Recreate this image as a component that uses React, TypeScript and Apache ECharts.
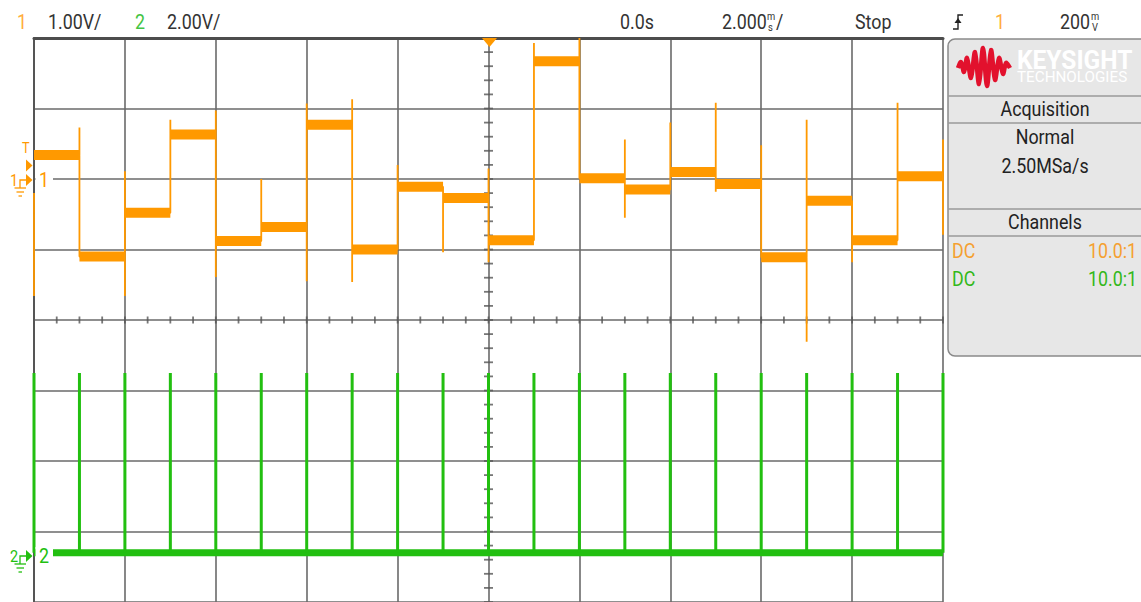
import React, { useEffect, useRef } from 'react';
import * as echarts from 'echarts';

// ---- data (time in ms, voltages in V) ----
const edgeTimes_ms = [-10, -9, -8, -7, -6, -5, -4, -3, -2, -1, 0, 1, 2, 3, 4, 5, 6, 7, 8, 9, 10];
const ch1Levels_V = [0.34, -1.10, -0.48, 0.63, -0.88, -0.68, 0.77, -1.00, -0.11, -0.27, -0.87, 1.67, 0.01, -0.15, 0.10, -0.07, -1.11, -0.31, -0.87, 0.04];
const ch1SpikeHigh_V = [-0.20, 0.73, 0.11, 0.84, 0.97, 0.00, 1.07, 1.13, 0.20, -0.11, 0.15, 1.93, 2.00, 0.56, 0.80, 1.08, 0.48, 0.84, -0.31, 1.08, 0.56];
const ch1SpikeLow_V = [-1.66, -1.10, -1.66, -0.48, -1.39, -0.88, -1.45, -1.46, -1.00, -1.04, -1.18, -0.87, 0.01, -0.55, -0.15, -0.18, -1.11, -2.31, -1.18, -0.87, -0.79];
const ch2PulseTimes_ms = [-10, -9, -8, -7, -6, -5, -4, -3, -2, -1, 0, 1, 2, 3, 4, 5, 6, 7, 8, 9, 10];
const ch2PulseHigh_V = [5.1, 5.1, 5.1, 5.1, 5.1, 5.1, 5.1, 5.1, 5.1, 5.1, 5.1, 5.1, 5.1, 5.1, 5.1, 5.1, 5.1, 5.1, 5.1, 5.1, 5.1];
const ch2Baseline_V = 0;

// scope settings
const timeMin_ms = -10;
const timeMax_ms = 10;
const timeDiv_ms = 2;
const ch1Min_V = -6;
const ch1Max_V = 2;
const ch2Min_V = -1.4;
const ch2Max_V = 14.6;

const ORANGE = '#ff9900';
const GREEN = '#22bf10';
const GRID = '#6a6a6a';
const FONT = 'Roboto, "Liberation Sans", sans-serif';

function txt(x: number, y: number, text: string, fill: string, align: string = 'left', size: number = 21, extra: any = {}) {
  return {
    type: 'text', x, y, scaleX: 0.85, z: 100,
    style: { text, fill, fontSize: size, fontFamily: FONT, align, verticalAlign: 'middle', ...extra },
  };
}

function grip(x: number, y: number) {
  const kids: any[] = [];
  for (let c = 0; c < 2; c++) for (let r = 0; r < 3; r++) {
    kids.push({ type: 'rect', shape: { x: x + c * 3.5, y: y + r * 4, width: 1.6, height: 1.6 }, style: { fill: '#666' } });
  }
  return { type: 'group', z: 100, children: kids };
}

function groundMark(labelX: number, cy: number, color: string, label: string) {
  return [
    txt(labelX, cy, label, color, 'left', 17),
    { type: 'polyline', z: 100, shape: { points: [[26, cy], [20, cy], [20, cy + 8]] }, style: { stroke: color, lineWidth: 1.3, fill: null } },
    { type: 'line', z: 100, shape: { x1: 14.5, y1: cy + 8, x2: 26, y2: cy + 8 }, style: { stroke: color, lineWidth: 1.3 } },
    { type: 'line', z: 100, shape: { x1: 16.5, y1: cy + 12, x2: 24, y2: cy + 12 }, style: { stroke: color, lineWidth: 1.3 } },
    { type: 'line', z: 100, shape: { x1: 18.5, y1: cy + 16, x2: 22, y2: cy + 16 }, style: { stroke: color, lineWidth: 1.3 } },
    { type: 'polygon', z: 100, shape: { points: [[26, cy - 6], [32.5, cy], [26, cy + 6]] }, style: { fill: color } },
    { type: 'rect', z: 99, shape: { x: 35.5, y: cy - 9, width: 17.5, height: 18 }, style: { fill: '#ffffff' } },
    txt(39, cy, label, color, 'left', 21),
  ];
}

export default function App() {
  const ref = useRef<HTMLDivElement>(null);
  useEffect(() => {
    if (!ref.current) return;
    const chart = echarts.init(ref.current, undefined, { renderer: 'svg' });

    // ch1 thin trace with edge spikes
    const ch1Trace: any[] = [];
    ch1Trace.push([edgeTimes_ms[0], ch1SpikeLow_V[0]], [edgeTimes_ms[0], ch1SpikeHigh_V[0]], [edgeTimes_ms[0], null]);
    for (let i = 0; i < ch1Levels_V.length; i++) {
      const t0 = edgeTimes_ms[i], t1 = edgeTimes_ms[i + 1];
      ch1Trace.push([t0, ch1Levels_V[i]], [t1, ch1Levels_V[i]], [t1, ch1SpikeHigh_V[i + 1]], [t1, ch1SpikeLow_V[i + 1]]);
      if (i + 1 < ch1Levels_V.length) ch1Trace.push([t1, ch1Levels_V[i + 1]]);
    }
    // ch1 thick noisy band
    const ch1Band: any[] = [];
    for (let i = 0; i < ch1Levels_V.length; i++) {
      ch1Band.push([edgeTimes_ms[i], ch1Levels_V[i]], [edgeTimes_ms[i + 1], ch1Levels_V[i]], [edgeTimes_ms[i + 1], null]);
    }
    // ch2 pulses
    const ch2Pulses: any[] = [];
    ch2PulseTimes_ms.forEach((t, i) => {
      ch2Pulses.push([t, ch2Baseline_V], [t, ch2PulseHigh_V[i]], [t, null]);
    });
    const ch2Base = [[timeMin_ms, ch2Baseline_V], [timeMax_ms, ch2Baseline_V]];

    // crosshair minor ticks
    const hTicks: any[] = [];
    for (let k = -20; k <= 20; k++) hTicks.push([k * (timeDiv_ms / 4), (ch1Min_V + ch1Max_V) / 2]);
    const vTicks: any[] = [];
    for (let k = 0; k <= 40; k++) vTicks.push([0, ch1Min_V + k * 0.2]);

    const graphic: any[] = [
      // header
      txt(17, 22, '1', '#ffad40'),
      txt(48, 22, '1.00V/', '#333'),
      txt(135, 22, '2', '#44c444'),
      txt(167, 22, '2.00V/', '#333'),
      txt(620, 22, '0.0s', '#333'),
      txt(722, 22, '2.000', '#333'),
      txt(767, 16, 'm', '#333', 'left', 11),
      txt(768, 27, 's', '#333', 'left', 11),
      txt(776, 22, '/', '#333'),
      txt(855, 22, 'Stop', '#333'),
      { type: 'polyline', z: 100, shape: { points: [[953, 29], [958, 29], [958, 15], [963, 15]] }, style: { stroke: '#222', lineWidth: 1.4, fill: null } },
      { type: 'polygon', z: 100, shape: { points: [[954.5, 23], [958, 18], [961.5, 23]] }, style: { fill: '#222' } },
      txt(995, 22, '1', '#ffad40'),
      txt(1060, 22, '200', '#333'),
      txt(1091, 16, 'm', '#333', 'left', 11),
      txt(1092, 27, 'V', '#333', 'left', 11),
      // trigger position marker
      { type: 'polygon', z: 100, shape: { points: [[482, 38], [497, 38], [489.5, 47]] }, style: { fill: ORANGE } },
      // trigger level marker
      txt(22, 148, 'T', ORANGE, 'left', 15),
      { type: 'polygon', z: 100, shape: { points: [[26, 159.5], [32.5, 165.5], [26, 171.5]] }, style: { fill: ORANGE } },
      ...groundMark(10, 180, ORANGE, '1'),
      ...groundMark(10, 556, GREEN, '2'),
      // right panel
      { type: 'rect', z: 90, shape: { x: 948, y: 39, width: 205, height: 317, r: 7 }, style: { fill: '#e7e7e7', stroke: '#8a8a8a', lineWidth: 1.5 } },
      { type: 'line', z: 95, shape: { x1: 948, y1: 96, x2: 1141, y2: 96 }, style: { stroke: '#9a9a9a', lineWidth: 1.5 } },
      { type: 'line', z: 95, shape: { x1: 948, y1: 123, x2: 1141, y2: 123 }, style: { stroke: '#9a9a9a', lineWidth: 1.5 } },
      { type: 'line', z: 95, shape: { x1: 948, y1: 209, x2: 1141, y2: 209 }, style: { stroke: '#9a9a9a', lineWidth: 1.5 } },
      { type: 'line', z: 95, shape: { x1: 948, y1: 236, x2: 1141, y2: 236 }, style: { stroke: '#9a9a9a', lineWidth: 1.5 } },
      {
        type: 'polyline', z: 100,
        shape: { points: [[958, 68], [961, 62], [964, 72], [967, 58], [971, 78], [975, 52], [979, 84], [983, 48], [987, 86], [991, 50], [995, 80], [999, 58], [1003, 74], [1006, 63], [1010, 68]], smooth: 0.3 },
        style: { stroke: '#e2112d', lineWidth: 4.5, fill: null, lineJoin: 'round' },
      },
      { type: 'text', x: 1017, y: 60, z: 100, scaleX: 0.98, style: { text: 'KEYSIGHT', fill: '#ffffff', fontSize: 25, fontWeight: 'bold', fontFamily: FONT, align: 'left', verticalAlign: 'middle' } },
      { type: 'text', x: 1017, y: 77, z: 100, scaleX: 1.05, style: { text: 'TECHNOLOGIES', fill: '#ffffff', fontSize: 14.5, fontFamily: FONT, align: 'left', verticalAlign: 'middle' } },
      grip(953, 104), grip(1130, 104),
      txt(1045, 109, 'Acquisition', '#222', 'center'),
      txt(1045, 137, 'Normal', '#222', 'center'),
      txt(1045, 166, '2.50MSa/s', '#222', 'center'),
      grip(953, 217), grip(1130, 217),
      txt(1045, 222, 'Channels', '#222', 'center'),
      txt(952, 251, 'DC', '#f5a030'),
      txt(1137, 251, '10.0:1', '#f5a030', 'right'),
      txt(952, 279, 'DC', '#33b81a'),
      txt(1137, 279, '10.0:1', '#33b81a', 'right'),
    ];

    chart.setOption({
      animation: false,
      backgroundColor: '#ffffff',
      grid: { left: 34, top: 38, width: 909, height: 568, containLabel: false },
      xAxis: {
        type: 'value', min: timeMin_ms, max: timeMax_ms, interval: timeDiv_ms, position: 'top',
        axisLine: { show: true, onZero: false, lineStyle: { color: '#4d4d4d', width: 3 } },
        axisTick: { show: false }, axisLabel: { show: false },
        splitLine: { show: true, lineStyle: { color: GRID, width: 1.6 } },
      },
      yAxis: [
        {
          type: 'value', min: ch1Min_V, max: ch1Max_V, interval: 1, position: 'left',
          axisLine: { show: true, onZero: false, lineStyle: { color: '#555', width: 2 } },
          axisTick: { show: false }, axisLabel: { show: false },
          splitLine: { show: true, lineStyle: { color: GRID, width: 1.6 } },
        },
        { type: 'value', min: ch2Min_V, max: ch2Max_V, show: false, splitLine: { show: false } },
      ],
      series: [
        { type: 'scatter', data: hTicks, symbol: 'rect', symbolSize: [1.8, 7], itemStyle: { color: '#555' }, silent: true, z: 1 },
        { type: 'scatter', data: vTicks, symbol: 'rect', symbolSize: [9, 1.8], itemStyle: { color: '#555' }, silent: true, z: 1 },
        { type: 'line', yAxisIndex: 1, data: ch2Base, symbol: 'none', lineStyle: { color: GREEN, width: 7 }, z: 3, silent: true },
        { type: 'line', yAxisIndex: 1, data: ch2Pulses, symbol: 'none', connectNulls: false, lineStyle: { color: GREEN, width: 3 }, z: 3, silent: true },
        { type: 'line', yAxisIndex: 0, data: ch1Trace, symbol: 'none', connectNulls: false, lineStyle: { color: ORANGE, width: 1.8 }, z: 4, silent: true },
        { type: 'line', yAxisIndex: 0, data: ch1Band, symbol: 'none', connectNulls: false, lineStyle: { color: ORANGE, width: 10, cap: 'butt' }, z: 4, silent: true },
      ],
      graphic,
    });
    return () => chart.dispose();
  }, []);
  return <div ref={ref} style={{ position: 'absolute', left: 0, top: 0, width: 1141, height: 602 }} />;
}
